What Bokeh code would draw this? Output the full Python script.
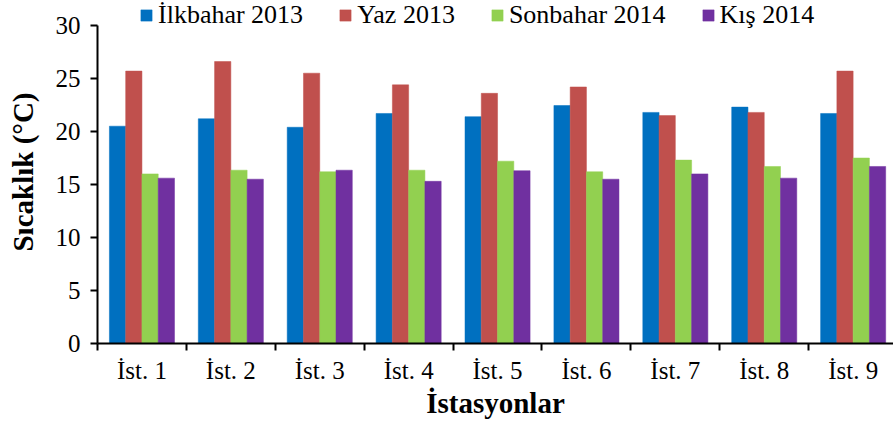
from bokeh.plotting import figure
from bokeh.models import ColumnDataSource, Range1d, FixedTicker, Legend, LegendItem
from bokeh.transform import dodge
from bokeh.embed import file_html
from bokeh.resources import INLINE

stations = ["İst. 1", "İst. 2", "İst. 3", "İst. 4", "İst. 5", "İst. 6", "İst. 7", "İst. 8", "İst. 9"]
series = ["İlkbahar 2013", "Yaz 2013", "Sonbahar 2014", "Kış 2014"]
ilkbahar = [20.5, 21.2, 20.4, 21.7, 21.4, 22.45, 21.8, 22.3, 21.7]
yaz = [25.7, 26.6, 25.5, 24.4, 23.6, 24.2, 21.5, 21.8, 25.7]
sonbahar = [16.0, 16.35, 16.2, 16.35, 17.2, 16.2, 17.3, 16.7, 17.5]
kis = [15.6, 15.5, 16.35, 15.3, 16.3, 15.5, 16.0, 15.6, 16.7]
y_ticks = [0, 5, 10, 15, 20, 25, 30]
colors = ["#0070C0", "#C0504D", "#92D050", "#7030A0"]

FONT = "Liberation Serif"

centers = [i + 0.5 for i in range(len(stations))]
src = ColumnDataSource(dict(x=centers, s0=ilkbahar, s1=yaz, s2=sonbahar, s3=kis))

y_max = max(y_ticks)
p = figure(width=893, height=423, output_backend="svg", toolbar_location=None,
           x_range=Range1d(0, 8.954), y_range=Range1d(0, y_max * 343 / 318),
           min_border_left=97, min_border_right=0, min_border_top=0, min_border_bottom=80)
p.outline_line_color = None
p.xgrid.visible = False
p.ygrid.visible = False

bw = 0.183
offsets = [-1.5 * bw, -0.5 * bw, 0.5 * bw, 1.5 * bw]
renderers = []
for k in range(4):
    r = p.vbar(x=dodge("x", offsets[k], range=p.x_range), top="s%d" % k, width=bw,
               source=src, fill_color=colors[k], line_color=colors[k], line_width=0.5)
    renderers.append(r)

xa = p.xaxis[0]
xa.ticker = FixedTicker(ticks=centers, minor_ticks=list(range(len(stations) + 1)))
xa.major_label_overrides = {c: s for c, s in zip(centers, stations)}
xa.major_tick_out = 0
xa.major_tick_in = 0
xa.minor_tick_out = 7
xa.minor_tick_in = 0
xa.minor_tick_line_color = "black"
xa.minor_tick_line_width = 2
xa.axis_line_width = 2
xa.axis_line_color = "black"
xa.major_label_text_font = FONT
xa.major_label_text_font_size = "25px"
xa.major_label_text_color = "black"
xa.major_label_standoff = 6
xa.axis_label = "İstasyonlar"
xa.axis_label_text_font = FONT
xa.axis_label_text_font_style = "bold"
xa.axis_label_text_font_size = "29px"
xa.axis_label_text_color = "black"
xa.axis_label_standoff = 0

ya = p.yaxis[0]
ya.ticker = FixedTicker(ticks=y_ticks)
ya.bounds = (0, y_max)
ya.major_tick_out = 7
ya.major_tick_in = 0
ya.minor_tick_out = 0
ya.minor_tick_in = 0
ya.major_tick_line_width = 2
ya.major_tick_line_color = "black"
ya.axis_line_width = 2
ya.axis_line_color = "black"
ya.major_label_text_font = FONT
ya.major_label_text_font_size = "25px"
ya.major_label_text_color = "black"
ya.major_label_standoff = 10
ya.axis_label = "Sıcaklık (°C)"
ya.axis_label_text_font = FONT
ya.axis_label_text_font_style = "bold"
ya.axis_label_text_font_size = "29px"
ya.axis_label_text_color = "black"
ya.axis_label_standoff = 14

legend = Legend(items=[LegendItem(label=s, renderers=[r]) for s, r in zip(series, renderers)],
                orientation="horizontal", location=(42, 313),
                label_text_font=FONT, label_text_font_size="26px", label_text_color="black",
                glyph_width=14, glyph_height=14, label_standoff=5, spacing=35,
                padding=0, margin=0, border_line_color=None, background_fill_alpha=0)
p.add_layout(legend)

open("out.html", "w").write(file_html(p, INLINE))
